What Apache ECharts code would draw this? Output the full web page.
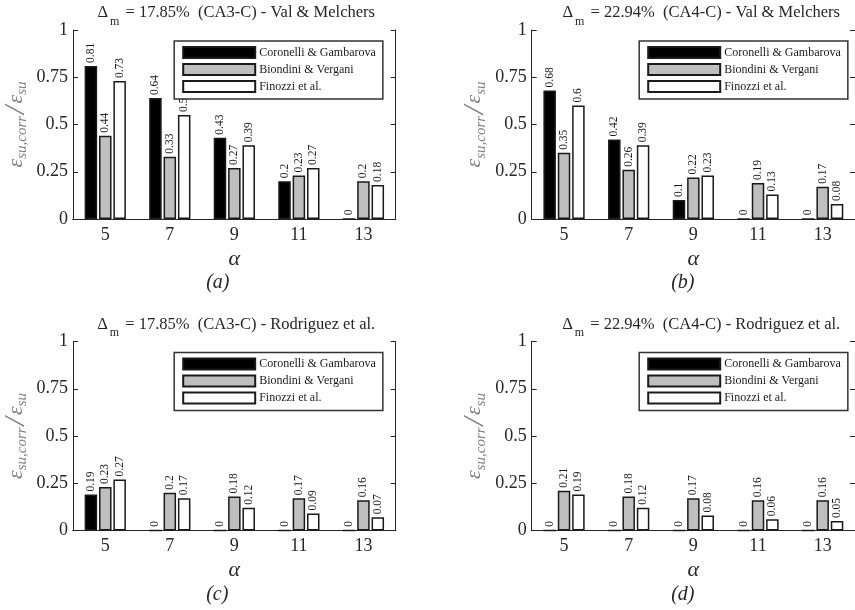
<!DOCTYPE html>
<html>
<head>
<meta charset="utf-8">
<script src="https://cdn.jsdelivr.net/npm/echarts@6/dist/echarts.min.js"></script>
<style>
  html, body { margin: 0; padding: 0; background: #fff; }
  #chart { width: 855px; height: 610px; }
</style>
</head>
<body>
<div id="chart"></div>
<script>
// Ratio of corroded to sound ultimate strain, per slenderness ratio alpha
const alphaValues = ['5', '7', '9', '11', '13'];
const seriesNames = ['Coronelli & Gambarova', 'Biondini & Vergani', 'Finozzi et al.'];
const yTicks = [0, 0.25, 0.5, 0.75, 1];

// (a) CA3-C, Val & Melchers
const aCoronelli = [0.81, 0.64, 0.43, 0.2, 0];
const aBiondini = [0.44, 0.33, 0.27, 0.23, 0.2];
const aFinozzi = [0.73, 0.55, 0.39, 0.27, 0.18];
// (b) CA4-C, Val & Melchers
const bCoronelli = [0.68, 0.42, 0.1, 0, 0];
const bBiondini = [0.35, 0.26, 0.22, 0.19, 0.17];
const bFinozzi = [0.6, 0.39, 0.23, 0.13, 0.08];
// (c) CA3-C, Rodriguez et al.
const cCoronelli = [0.19, 0, 0, 0, 0];
const cBiondini = [0.23, 0.2, 0.18, 0.17, 0.16];
const cFinozzi = [0.27, 0.17, 0.12, 0.09, 0.07];
// (d) CA4-C, Rodriguez et al.
const dCoronelli = [0, 0, 0, 0, 0];
const dBiondini = [0.21, 0.18, 0.17, 0.16, 0.16];
const dFinozzi = [0.19, 0.12, 0.08, 0.06, 0.05];

const panelTitles = [
  ['17.85%', 'CA3-C', 'Val & Melchers'],
  ['22.94%', 'CA4-C', 'Val & Melchers'],
  ['17.85%', 'CA3-C', 'Rodriguez et al.'],
  ['22.94%', 'CA4-C', 'Rodriguez et al.']
];
const panelCaptions = ['(a)', '(b)', '(c)', '(d)'];
const panelData = [
  [aCoronelli, aBiondini, aFinozzi],
  [bCoronelli, bBiondini, bFinozzi],
  [cCoronelli, cBiondini, cFinozzi],
  [dCoronelli, dBiondini, dFinozzi]
];

const FONT = 'Liberation Serif';
const INK = '#262626';
const fills = ['#000000', '#bfbfbf', '#ffffff'];

// panel layout
const plotW = 329, plotH = 189;
const lefts = [66.7, 531.7, 66.7, 531.7];
const tops = [30, 30, 341.5, 341.5];

const grids = [], xAxes = [], yAxes = [], series = [], legends = [], titles = [], graphics = [];

panelData.forEach((sets, p) => {
  const L = lefts[p], T = tops[p];
  grids.push({ left: L, top: T, width: plotW, height: plotH, containLabel: false });

  // bottom category axis
  xAxes.push({
    type: 'category', gridIndex: p, position: 'bottom', data: alphaValues,
    axisLine: { lineStyle: { color: INK, width: 1.2 } },
    axisTick: { inside: true, length: 5, alignWithLabel: true, lineStyle: { color: INK } },
    axisLabel: { color: INK, fontFamily: FONT, fontSize: 18, margin: 7 },
    name: 'α', nameLocation: 'middle', nameGap: 29,
    nameTextStyle: { color: INK, fontFamily: FONT, fontStyle: 'italic', fontSize: 22 }
  });
  // top frame axis
  xAxes.push({
    type: 'category', gridIndex: p, position: 'top', data: alphaValues,
    axisLine: { lineStyle: { color: INK, width: 1 } },
    axisTick: { inside: true, length: 5, alignWithLabel: true, lineStyle: { color: INK } },
    axisLabel: { show: false }
  });
  // left value axis
  yAxes.push({
    type: 'value', gridIndex: p, position: 'left', min: 0, max: 1, interval: 0.25,
    splitLine: { show: false },
    axisLine: { show: true, lineStyle: { color: INK, width: 1 } },
    axisTick: { show: true, inside: true, length: 5, lineStyle: { color: INK } },
    axisLabel: { color: INK, fontFamily: FONT, fontSize: 18, margin: 5 },
    name: '{e|ε}{s|su,corr}{sl|/}{e|ε}{s|su}',
    nameLocation: 'middle', nameGap: 45,
    nameTextStyle: {
      color: '#7f7f7f',
      rich: {
        e: { fontFamily: FONT, fontStyle: 'italic', fontSize: 22, color: '#7f7f7f', lineHeight: 24 },
        s: { fontFamily: FONT, fontStyle: 'italic', fontSize: 15, color: '#7f7f7f', lineHeight: 24, padding: [12, 0, 0, 0] },
        sl: { fontFamily: FONT, fontStyle: 'italic', fontSize: 30, color: '#7f7f7f', lineHeight: 24, padding: [0, 2, 0, 2] }
      }
    }
  });
  // right frame axis
  yAxes.push({
    type: 'value', gridIndex: p, position: 'right', min: 0, max: 1, interval: 0.25,
    splitLine: { show: false },
    axisLine: { show: true, lineStyle: { color: INK, width: 1 } },
    axisTick: { show: true, inside: true, length: 5, lineStyle: { color: INK } },
    axisLabel: { show: false }
  });

  sets.forEach((vals, s) => {
    series.push({
      type: 'bar', name: seriesNames[s],
      xAxisIndex: p * 2, yAxisIndex: p * 2,
      data: vals,
      barWidth: 12.5, barGap: '15%',
      itemStyle: { color: fills[s], borderColor: '#1a1a1a', borderWidth: 1.5 },
      label: {
        show: true, position: 'top', rotate: 90, align: 'left', verticalAlign: 'middle',
        distance: 3, fontFamily: FONT, fontSize: 11.5, color: '#1a1a1a'
      },
      emphasis: { disabled: true }
    });
  });

  legends.push({
    data: seriesNames, orient: 'vertical',
    left: L + 107.5, top: T + 11,
    icon: 'rect', itemWidth: 72, itemHeight: 11, itemGap: 4,
    padding: [5, 7, 6, 8],
    backgroundColor: '#ffffff', borderColor: '#333333', borderWidth: 1.5,
    textStyle: { fontFamily: FONT, fontSize: 12, color: '#1a1a1a', padding: [0, 0, 0, -1] },
    selectedMode: false
  });

  const t = panelTitles[p];
  titles.push({
    text: '{d|Δ}{m|m}{t| = ' + t[0] + '  (' + t[1] + ') - ' + t[2] + '}',
    left: L + plotW / 2, textAlign: 'center', top: T - 32,
    textStyle: {
      fontWeight: 'normal',
      rich: {
        d: { fontFamily: FONT, fontWeight: 'normal', fontSize: 16.5, color: INK, lineHeight: 20 },
        m: { fontFamily: FONT, fontWeight: 'normal', fontSize: 12, color: INK, lineHeight: 14, padding: [17, 2, 0, 2] },
        t: { fontFamily: FONT, fontWeight: 'normal', fontSize: 16.5, color: INK, lineHeight: 20 }
      }
    }
  });

  graphics.push({
    type: 'text', left: L + plotW / 2 - 25, top: T + plotH + 54,
    style: { text: panelCaptions[p], font: 'italic 20px "Liberation Serif"', fill: INK }
  });
});

const chart = echarts.init(document.getElementById('chart'), null, { renderer: 'canvas' });
chart.setOption({
  animation: false,
  backgroundColor: '#ffffff',
  title: titles,
  legend: legends,
  grid: grids,
  xAxis: xAxes,
  yAxis: yAxes,
  series: series,
  graphic: graphics
});
</script>
</body>
</html>
